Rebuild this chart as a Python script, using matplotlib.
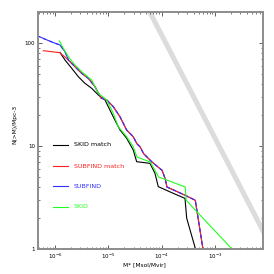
import matplotlib
matplotlib.use("Agg")
import matplotlib.pyplot as plt
from matplotlib.ticker import FixedLocator, FixedFormatter, LogLocator, NullFormatter

# cumulative mass functions
skid_match_x = [1.24e-6, 1.54e-6, 2.06e-6, 2.74e-6, 3.65e-6, 4.89e-6, 6.49e-6, 8.67e-6, 1.24e-5, 1.66e-5,
                2.21e-5, 2.94e-5, 3.41e-5, 6.05e-5, 7.51e-5, 8.67e-5, 1.66e-4, 2.75e-4, 2.96e-4, 4.33e-4]
skid_match_y = [81, 68.4, 56.8, 47.1, 40.6, 36.3, 31.3, 28.0, 19.2, 14.3,
                11.9, 9.14, 7.04, 6.79, 5.43, 4.03, 3.47, 3.10, 1.99, 1.0]

subfind_match_x = [6.03e-7, 1.24e-6, 1.78e-6, 2.37e-6, 3.17e-6, 4.22e-6, 5.63e-6, 7.29e-6, 9.33e-6, 1.24e-5,
                   1.66e-5, 2.21e-5, 2.94e-5, 3.45e-5, 3.93e-5, 4.61e-5, 6.61e-5, 1.02e-4, 1.17e-4, 1.26e-4,
                   2.78e-4, 4.29e-4, 5.98e-4]
subfind_match_y = [84.2, 80.5, 68.4, 58.9, 50.8, 45.4, 37.7, 29.2, 28.0, 24.1,
                   19.2, 14.3, 12.3, 10.5, 9.85, 8.42, 6.99, 5.81, 4.81, 4.0,
                   3.32, 2.97, 1.0]

subfind_x = [4.6e-7, 6.49e-7, 9.29e-7, 1.24e-6, 1.54e-6, 1.78e-6, 2.37e-6, 3.17e-6, 4.22e-6, 5.63e-6,
             7.29e-6, 9.33e-6, 1.24e-5, 1.66e-5, 2.21e-5, 2.94e-5, 3.45e-5, 3.93e-5, 4.61e-5, 6.61e-5,
             1.02e-4, 1.17e-4, 1.26e-4, 2.78e-4, 4.29e-4, 5.98e-4]
subfind_y = [118, 109, 101, 95.6, 82.4, 68.4, 58.9, 50.8, 45.4, 37.7,
             29.2, 28.0, 24.1, 19.2, 14.3, 12.3, 10.5, 9.85, 8.42, 6.99,
             5.81, 4.81, 4.0, 3.32, 2.97, 1.0]

skid_x = [1.21e-6, 1.43e-6, 1.78e-6, 2.37e-6, 3.17e-6, 4.89e-6, 6.49e-6, 9.33e-6, 1.24e-5, 1.54e-5,
          2.21e-5, 2.94e-5, 3.45e-5, 6.13e-5, 8.83e-5, 2.78e-4, 2.90e-4, 2.09e-3]
skid_y = [105, 88.9, 73.6, 61.1, 52.6, 43.7, 32.5, 28.0, 20.8, 15.4,
          12.3, 9.85, 7.82, 6.99, 5.0, 4.0, 2.97, 1.0]

# grey reference line N = C / M
ref_x = [1e-5, 1e-2]
ref_c = 0.012

labels = ["SKID match", "SUBFIND match", "SUBFIND", "SKID"]
colors = ["black", "#ff2020", "#3030ff", "#20ff20"]

fig = plt.figure(figsize=(2.74, 2.74), dpi=100)
ax = fig.add_axes([38 / 274, 25 / 274, 225 / 274, 237 / 274])
ax.set_xscale("log")
ax.set_yscale("log")

ax.plot(ref_x, [ref_c / x for x in ref_x], color="#dcdcdc", lw=3.6, solid_capstyle="butt", zorder=1)

ax.plot(skid_match_x, skid_match_y, color=colors[0], lw=0.8)
ax.plot(subfind_x, subfind_y, color=colors[2], lw=0.8)
ax.plot(subfind_match_x, subfind_match_y, color=colors[1], lw=0.8)
# blue and red overlap almost everywhere: let both show through
ax.plot(subfind_x, subfind_y, color=colors[2], lw=0.8, dashes=(3, 3))
ax.plot(skid_x, skid_y, color=colors[3], lw=0.8)

ax.set_xlim(4.8e-7, 8e-3)
ax.set_ylim(1, 200)

ax.yaxis.set_major_locator(FixedLocator([1, 10, 100]))
ax.yaxis.set_major_formatter(FixedFormatter(["1", "10", "100"]))
ax.yaxis.set_minor_locator(LogLocator(base=10, subs=range(2, 10)))
ax.yaxis.set_minor_formatter(NullFormatter())
ax.xaxis.set_minor_locator(LogLocator(base=10, subs=range(2, 10)))
ax.xaxis.set_minor_formatter(NullFormatter())

ax.tick_params(which="both", direction="in", top=True, right=True, labelsize=4, color="#444444", pad=2)
ax.tick_params(which="major", length=3, width=0.6)
ax.tick_params(which="minor", length=1.6, width=0.5)
for s in ax.spines.values():
    s.set_color("#8c8c8c")
    s.set_linewidth(1.4)

ax.set_xlabel("M* [Msol/Mvir]", fontsize=4.2, labelpad=2)
ax.xaxis.set_label_coords((144 - 38) / 225, -0.055)
ax.set_ylabel("N(>M)/Mpc-3", fontsize=4.2, labelpad=2)
ax.yaxis.set_label_coords(-0.09, (249 - 124) / 237)

# hand placed legend like the original
for i in range(4):
    py = [145, 166, 186, 207][i]
    yf = (249 - py) / 237
    ax.plot([(53 - 38) / 225, (68 - 38) / 225], [yf, yf], transform=ax.transAxes, color=colors[i], lw=0.8)
    ax.text((74 - 38) / 225, yf, labels[i], transform=ax.transAxes, color=colors[i], fontsize=4.6, va="center")

fig.savefig("out.png", dpi=100)
